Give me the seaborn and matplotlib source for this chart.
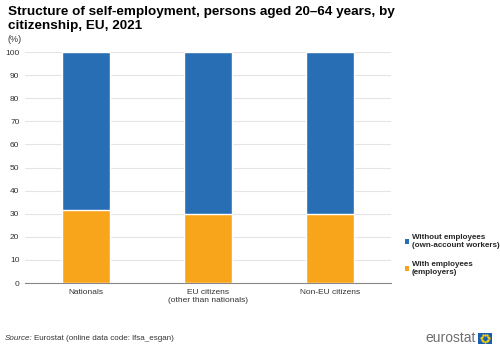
import matplotlib
matplotlib.use("Agg")
import matplotlib.pyplot as plt
from matplotlib.patches import Patch, Rectangle
import numpy as np
import pandas as pd
import seaborn as sns

categories = ["Nationals", "EU citizens\n(other than nationals)", "Non-EU citizens"]
with_employees = [31.8, 29.7, 30.0]
without_employees = [68.2, 70.3, 70.0]
series_labels = ["Without employees\n(own-account workers)", "With employees\n(employers)"]
y_ticks = list(range(0, 101, 10))

BLUE = "#286EB4"
ORANGE = "#F9A51B"

sns.set_theme(style="white")
plt.rcParams["font.family"] = ["Liberation Sans", "DejaVu Sans"]

df = pd.DataFrame({
    "category": categories,
    "with": with_employees,
    "total": np.array(with_employees) + np.array(without_employees),
})

fig = plt.figure(figsize=(5.0, 3.47), dpi=100)
ax = fig.add_axes([0.05, 0.1844, 0.732, 0.6656])

sns.barplot(data=df, x="category", y="total", color=BLUE, width=0.4,
            saturation=1, ax=ax, zorder=3)
sns.barplot(data=df, x="category", y="with", color=ORANGE, width=0.4,
            saturation=1, ax=ax, zorder=4)

ax.set_xlim(-0.5, 2.5)
ax.set_ylim(0, 100)
ax.set_yticks(y_ticks)
ax.set_yticklabels([str(t) for t in y_ticks], fontsize=6, color="#333333")
ax.set_xlabel("")
ax.set_ylabel("")
ax.tick_params(axis="y", length=0, pad=4)
ax.tick_params(axis="x", length=0, labelsize=6, labelcolor="#333333", pad=4)
ax.yaxis.grid(True, color="#E4E4E4", linewidth=0.8, zorder=0)
ax.set_axisbelow(True)
for side in ["left", "right", "top"]:
    ax.spines[side].set_visible(False)
ax.spines["bottom"].set_color("#888888")
ax.spines["bottom"].set_linewidth(0.8)

# Minor ticks marking category boundaries
ax.set_xticks([-0.5, 0.5, 1.5, 2.5], minor=True)
ax.tick_params(axis="x", which="minor", length=3, color="#888888", width=0.8)

fig.text(0.016, 0.983, "Structure of self-employment, persons aged 20\u201364 years, by\ncitizenship, EU, 2021",
         fontsize=9.7, fontweight="bold", va="top", ha="left", color="#000000", linespacing=1.2)
fig.text(0.016, 0.885, "(%)", fontsize=6.5, va="center", ha="left", color="#333333")

handles = [Patch(facecolor=BLUE, edgecolor="none"), Patch(facecolor=ORANGE, edgecolor="none")]
fig.legend(handles, series_labels, loc="center left", bbox_to_anchor=(0.795, 0.265),
           frameon=False, handlelength=0.55, handleheight=0.55,
           handletextpad=0.35, labelspacing=1.5, prop={"weight": "bold", "size": 5.8})

fig.text(0.010, 0.025, "Source:", fontsize=5.8, style="italic", va="center", ha="left", color="#333333")
fig.text(0.068, 0.025, "Eurostat (online data code: lfsa_esgan)", fontsize=5.8,
         va="center", ha="left", color="#333333")

# eurostat mark
fig.text(0.952, 0.025, "eurostat", fontsize=10, va="center", ha="right", color="#6E6E6E")
flag = Rectangle((0.956, 0.010), 0.028, 0.030, transform=fig.transFigure,
                 facecolor="#1A5EB4", edgecolor="none")
fig.patches.append(flag)
theta = np.linspace(0, 2 * np.pi, 12, endpoint=False)
fig.add_artist(plt.Line2D(0.970 + 0.008 * np.cos(theta), 0.025 + 0.0105 * np.sin(theta),
                          transform=fig.transFigure, linestyle="none", marker="o",
                          markersize=0.7, color="#FFD200"))

fig.savefig("out.png", dpi=100)
